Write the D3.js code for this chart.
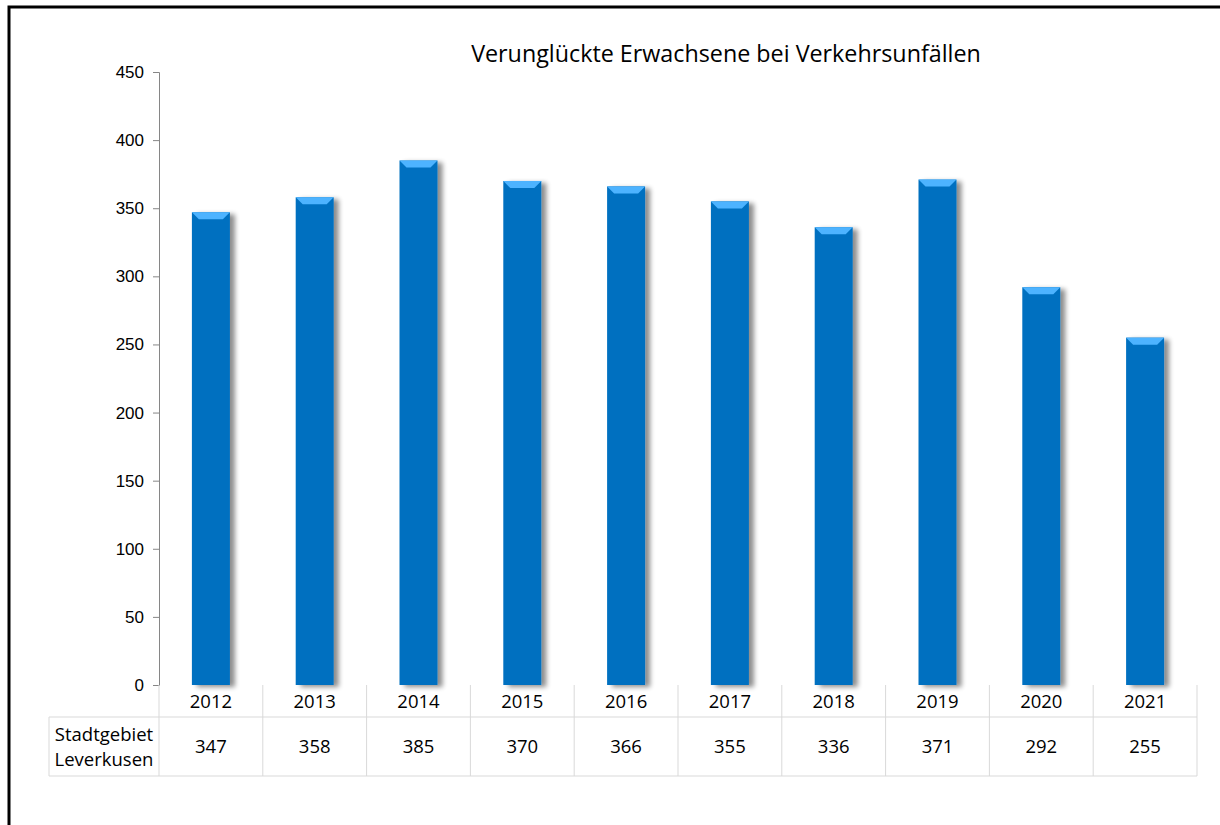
<!DOCTYPE html>
<html><head><meta charset="utf-8">
<script src="https://cdn.jsdelivr.net/npm/d3@7"></script>
<style>body{margin:0;background:#fff}svg{display:block}</style>
</head><body>
<svg id="c" width="1220" height="825"></svg>
<script>
const years = ["2012","2013","2014","2015","2016","2017","2018","2019","2020","2021"];
const values = [347,358,385,370,366,355,336,371,292,255];
const yTicks = [0,50,100,150,200,250,300,350,400,450];
const title = "Verunglückte Erwachsene bei Verkehrsunfällen";
const rowLabel = ["Stadtgebiet","Leverkusen"];

(function(){
const svg = d3.select("#c");
const pL = 159, pR = 1197, pT = 72, pB = 685;
const x = d3.scaleBand().domain(years).range([pL, pR]);
const y = d3.scaleLinear().domain([0,450]).range([pB, pT]);

// frame
svg.append("path").attr("d","M9,830 V7 H1230").attr("fill","none").attr("stroke","#000").attr("stroke-width",3);

const defs = svg.append("defs");
const f = defs.append("filter").attr("id","sh").attr("x","-20%").attr("y","-5%").attr("width","160%").attr("height","115%");
f.append("feGaussianBlur").attr("in","SourceAlpha").attr("stdDeviation",2.5);
f.append("feOffset").attr("dx",5).attr("dy",2).attr("result","b");
f.append("feComponentTransfer").append("feFuncA").attr("type","linear").attr("slope",0.45);
const m = f.append("feMerge"); m.append("feMergeNode"); m.append("feMergeNode").attr("in","SourceGraphic");

// title
svg.append("text").attr("x",726).attr("y",62).attr("text-anchor","middle")
  .attr("font-family","'Open Sans', sans-serif").attr("font-size",23.3).attr("fill","#000").text(title);

// axis
const ax = svg.append("g").attr("transform",`translate(${pL},0)`)
  .call(d3.axisLeft(y).tickValues(yTicks).tickSize(6).tickPadding(9));
ax.select(".domain").attr("stroke","#868686");
ax.selectAll(".tick line").attr("stroke","#868686");
ax.selectAll("text").attr("font-family","'Liberation Sans', Arial, sans-serif").attr("font-size",17).attr("fill","#000");

// bars
const bw = 38, bev = 7, ins = 7;
const g = svg.append("g");
years.forEach((yr,i)=>{
  const cx = x(yr) + x.bandwidth()/2;
  const x0 = cx - bw/2, yt = y(values[i]);
  g.append("rect").attr("x",x0).attr("y",yt).attr("width",bw).attr("height",pB-yt)
    .attr("fill","#0070C0").attr("filter","url(#sh)");
  g.append("path").attr("d",`M${x0},${yt} H${x0+bw} L${x0+bw-ins},${yt+bev} H${x0+ins} Z`).attr("fill","#4DB3FF");
});

// table
const grid = "#d9d9d9";
const tb = svg.append("g");
const r1 = 717, r2 = 776, lx = 49;
tb.append("line").attr("x1",lx).attr("x2",pR).attr("y1",r1).attr("y2",r1).attr("stroke",grid);
tb.append("line").attr("x1",lx).attr("x2",pR).attr("y1",r2).attr("y2",r2).attr("stroke",grid);
tb.append("line").attr("x1",lx).attr("x2",lx).attr("y1",r1).attr("y2",r2).attr("stroke",grid);
years.forEach(yr=>{
  tb.append("line").attr("x1",x(yr)+x.bandwidth()).attr("x2",x(yr)+x.bandwidth()).attr("y1",pB).attr("y2",r2).attr("stroke",grid);
});
tb.append("line").attr("x1",pL).attr("x2",pL).attr("y1",pB).attr("y2",r2).attr("stroke",grid);
const tf = "'Open Sans', sans-serif", fs = 18.5;
years.forEach((yr,i)=>{
  const cx = x(yr)+x.bandwidth()/2;
  tb.append("text").attr("x",cx).attr("y",708).attr("text-anchor","middle").attr("font-family",tf).attr("font-size",fs).text(yr);
  tb.append("text").attr("x",cx).attr("y",753).attr("text-anchor","middle").attr("font-family",tf).attr("font-size",fs).text(values[i]);
});
tb.append("text").attr("x",104).attr("y",741).attr("text-anchor","middle").attr("font-family",tf).attr("font-size",fs).text(rowLabel[0]);
tb.append("text").attr("x",104).attr("y",766).attr("text-anchor","middle").attr("font-family",tf).attr("font-size",fs).text(rowLabel[1]);
})();
</script>
</body></html>
